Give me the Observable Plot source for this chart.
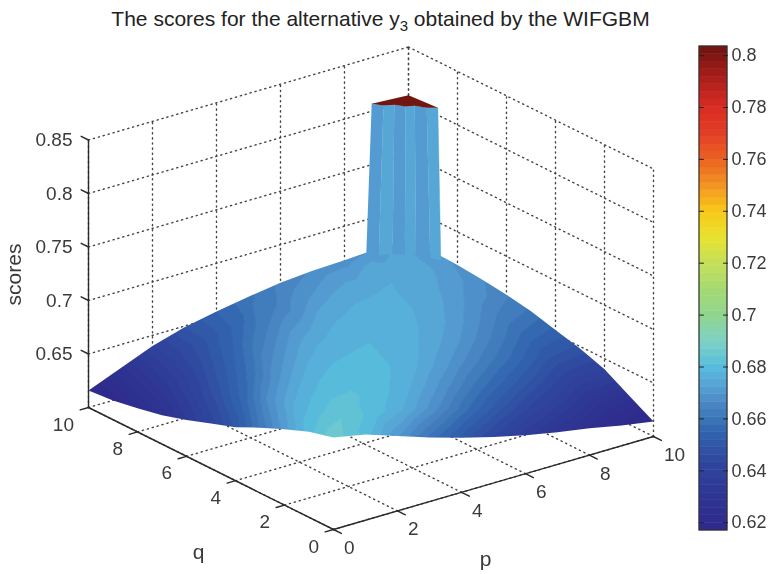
<!DOCTYPE html>
<html>
<head>
<meta charset="utf-8">
<script src="https://cdn.jsdelivr.net/npm/d3@7"></script>
<script src="https://cdn.jsdelivr.net/npm/@observablehq/plot@0.6"></script>
<style>
html,body{margin:0;padding:0;background:#fff;}
#title{height:40px;width:771px;box-sizing:border-box;padding-top:7px;text-align:center;padding-right:10px;
font:21px/24px "Liberation Sans",Arial,sans-serif;color:#222;white-space:nowrap;}
#title sub{font-size:15px;line-height:0;}
svg{display:block;filter:blur(.4px);}
</style>
</head>
<body>
<div id="title">The scores for the alternative y<sub>3</sub> obtained by the WIFGBM</div>
<div id="chart"></div>
<script>
// grid positions
const pValues = [0,1,2,3,4,5,6,7,8,9,10];
const qValues = [0,1,2,3,4,5,6,7,8,9,10];
// surface scores, one row per q, one column per p (foot of the column at the far corner)
const scoresQ0  = [.686,.680,.670,.660,.651,.643,.636,.630,.625,.619,.614];
const scoresQ1  = [.680,.684,.680,.675,.667,.6575,.6495,.6425,.6367,.6295,.627];
const scoresQ2  = [.671,.680,.682,.6795,.675,.668,.660,.6535,.6469,.6407,.640];
const scoresQ3  = [.661,.675,.6795,.680,.6785,.675,.669,.6625,.6565,.6496,.648];
const scoresQ4  = [.650,.667,.675,.6785,.679,.6775,.6745,.6695,.6635,.657,.654];
const scoresQ5  = [.642,.656,.668,.675,.6775,.678,.6765,.674,.669,.6631,.660];
const scoresQ6  = [.634,.648,.659,.669,.6745,.6765,.677,.6755,.6725,.668,.664];
const scoresQ7  = [.627,.641,.652,.6625,.6695,.674,.6755,.676,.6742,.6713,.667];
const scoresQ8  = [.622,.635,.646,.655,.663,.668,.6725,.6742,.675,.6733,.669];
const scoresQ9  = [.618,.631,.642,.650,.657,.663,.668,.6713,.6733,.674,.670];
const scoresQ10 = [.616,.628,.640,.649,.655,.660,.6645,.667,.668,.670,.671];
const scoreRows = [scoresQ0,scoresQ1,scoresQ2,scoresQ3,scoresQ4,scoresQ5,scoresQ6,scoresQ7,scoresQ8,scoresQ9,scoresQ10];

// the column in the far corner: one entry per edge of each facet
const columnTopP  = [8.85,9.05,9.25,9.45,9.62,9.82,10];
const columnTopQ  = [10,9.78,9.6,9.4,9.25,9.02,8.8];
const columnTopZ  = [.807,.806,.807,.806,.807,.806,.807];
const columnBaseP = [8.68,8.88,9.12,9.35,9.55,9.8,10];
const columnBaseQ = [10,9.75,9.5,9.3,9.1,8.85,8.68];
const columnBaseZ = [.667,.668,.670,.670,.670,.668,.666];
const columnFacetScore = [.6715,.6745,.6715,.6745,.6715,.6745];
const cornerP = 10, cornerQ = 10, cornerZ = .805, cornerScore = .803;

// axes
const xyTicks = [0,2,4,6,8,10];
const zTicks = [.65,.7,.75,.8,.85];
const zFloor = .6;
const barTicks = [.62,.64,.66,.68,.7,.72,.74,.76,.78,.8];
const barMin = .617, barMax = .8035;

// colour map
const stopValues = [.617,.63,.645,.655,.665,.672,.68,.69,.70,.71,.72,.73,.74,.75,.76,.77,.78,.79,.80,.8035];
const stopColors = ["#2f2a8c","#2e3593","#2f4aa0","#3165ae","#4885c2","#569fd4","#57bcdc","#7fd2c4","#90d58e","#a6da72","#c4df58","#e8e22e","#f8c818","#f39322","#ea6222","#e23d25","#d92b24","#b01f1c","#7e1612","#6b1410"];
const bandCount = 64;

// view of the box (pixels per unit)
const origin = [333, 529];
const perP = [32, -9.3];
const perQ = [-24.5, -12.2];
const perZ = -1070;
const sx = (p,q) => origin[0] + perP[0]*p + perQ[0]*q;
const sy = (p,q,z) => origin[1] + perP[1]*p + perQ[1]*q + perZ*(z - zFloor);
const pt = (p,q,z) => ({x:sx(p,q), y:sy(p,q,z)});

// colour bar geometry
const barLeft = 699, barRight = 727, barTop = 46, barBottom = 530;
const barY = d3.scaleLinear([barMin,barMax],[barBottom,barTop]);

// colour scale
const colorAt = d3.scaleLinear(stopValues, stopColors).interpolate(d3.interpolateRgb);
const bandEdges = d3.range(bandCount+1).map(i => barMin + (barMax-barMin)*i/bandCount);
const bands = d3.range(bandCount).map(i => ({v0:bandEdges[i], v1:bandEdges[i+1], v:(bandEdges[i]+bandEdges[i+1])/2}));
const bandRange = bands.map(b => d3.rgb(colorAt(b.v)).formatHex());
const bandDomain = bandEdges.slice(1,-1);

// surface points
const surface = [];
qValues.forEach((q,i) => pValues.forEach((p,j) => {
  const z = scoreRows[i][j];
  surface.push({...pt(p,q,z), z});
}));
// outline of the surface: walk round the grid
const last = pValues.length - 1;
const outline = [
  ...pValues.map((p,j) => pt(p,qValues[0],scoreRows[0][j])),
  ...qValues.map((q,i) => pt(pValues[last],q,scoreRows[i][last])),
  ...pValues.map((p,j) => pt(p,qValues[last],scoreRows[last][j])).reverse(),
  ...qValues.map((q,i) => pt(pValues[0],q,scoreRows[i][0])).reverse()
];
function clipToOutline(index, scales, values, dims, context, next) {
  const g = next(index, scales, values, dims, context);
  const d = "M" + outline.map(o => `${scales.x(o.x)},${scales.y(o.y)}`).join("L") + "Z";
  const clip = d3.create("svg:clipPath").attr("id","surface-outline");
  clip.append("path").attr("d", d);
  g.insertBefore(clip.node(), g.firstChild);
  g.setAttribute("clip-path","url(#surface-outline)");
  return g;
}

// grid lines (dotted)
const grid = [];
let gid = 0;
const seg = (a,b) => { grid.push({...a,id:gid},{...b,id:gid}); gid++; };
const zTop = zTicks[zTicks.length-1];
for (const t of xyTicks) {
  seg(pt(t,0,zFloor), pt(t,10,zFloor));
  seg(pt(0,t,zFloor), pt(10,t,zFloor));
  seg(pt(t,10,zFloor), pt(t,10,zTop));
  seg(pt(10,t,zFloor), pt(10,t,zTop));
}
for (const z of zTicks) {
  seg(pt(0,10,z), pt(10,10,z));
  seg(pt(10,10,z), pt(10,0,z));
}

// solid axes and ticks
const axes = [];
let aid = 0;
const aseg = (a,b) => { axes.push({...a,id:aid},{...b,id:aid}); aid++; };
aseg(pt(0,0,zFloor), pt(10,0,zFloor));
aseg(pt(0,0,zFloor), pt(0,10,zFloor));
aseg(pt(0,10,zFloor), pt(0,10,zTop));
for (const t of xyTicks) {
  aseg(pt(t,0,zFloor), pt(t,-.32,zFloor));
  aseg(pt(0,t,zFloor), pt(-.26,t,zFloor));
}
for (const z of zTicks) {
  aseg(pt(0,10,z), pt(0,10.3,z));
}

// tick labels, placed by offset from the axes
const pLabels = xyTicks.map(t => { const a = pt(t,0,zFloor); return {x:a.x+10.5, y:a.y+18.5, t:String(t)}; });
const qLabels = xyTicks.map(t => { const a = pt(0,t,zFloor); return {x:a.x-14.5, y:a.y+17, t:String(t)}; });
const zLabels = zTicks.map(z => { const a = pt(0,10,z); return {x:a.x-16, y:a.y, t:String(z)}; });

// column facets and top
const facets = [];
columnFacetScore.forEach((s,i) => {
  const ring = [
    pt(columnTopP[i],columnTopQ[i],columnTopZ[i]),
    pt(columnTopP[i+1],columnTopQ[i+1],columnTopZ[i+1]),
    pt(columnBaseP[i+1],columnBaseQ[i+1],columnBaseZ[i+1]),
    pt(columnBaseP[i],columnBaseQ[i],columnBaseZ[i])
  ];
  ring.forEach(r => facets.push({...r, id:i, s}));
});
const topRing = columnTopP.map((p,i) => pt(p,columnTopQ[i],columnTopZ[i]));
topRing.push(pt(cornerP,cornerQ,cornerZ));
topRing.forEach(r => r.s = cornerScore);

// colour bar ticks
const barTickSegs = [];
barTicks.forEach((v,i) => {
  const y = barY(v);
  barTickSegs.push({x:barLeft,y,id:2*i},{x:barLeft+4,y,id:2*i},{x:barRight-4,y,id:2*i+1},{x:barRight,y,id:2*i+1});
});

const ink = "#2a2a2a";
const textInk = "#3a3a3a";
const chart = Plot.plot({
  width: 771, height: 534,
  marginTop: 0, marginRight: 0, marginBottom: 0, marginLeft: 0,
  x: {domain:[0,771], range:[0,771], axis:null},
  y: {domain:[40,574], range:[0,534], axis:null},
  color: {type:"threshold", domain: bandDomain, range: bandRange},
  style: {fontFamily:'"Liberation Sans",Arial,sans-serif', background:"#fff", overflow:"visible"},
  marks: [
    Plot.line(grid, {x:"x", y:"y", z:"id", stroke:"#444", strokeWidth:1.4, strokeDasharray:"1.2,3.9", strokeLinecap:"round"}),
    Plot.raster(surface, {x:"x", y:"y", fill:"z", interpolate:"barycentric", x1:0, x2:771, y1:40, y2:574, width:771, height:534, render:clipToOutline}),
    Plot.line(axes, {x:"x", y:"y", z:"id", stroke:ink, strokeWidth:1.4}),
    Plot.line(facets, {x:"x", y:"y", z:"id", fill:"s", stroke:"s", strokeWidth:.4}),
    Plot.line(topRing, {x:"x", y:"y", fill:"s", stroke:"none"}),
    Plot.text(pLabels, {x:"x", y:"y", text:"t", textAnchor:"start", fontSize:19, fill:textInk}),
    Plot.text(qLabels, {x:"x", y:"y", text:"t", textAnchor:"end", fontSize:19, fill:textInk}),
    Plot.text(zLabels, {x:"x", y:"y", text:"t", fontSize:19, textAnchor:"end", fill:textInk}),
    Plot.text(["q"], {x:()=>198, y:()=>552, fontSize:21, fill:textInk}),
    Plot.text(["p"], {x:()=>485, y:()=>559, fontSize:21, fill:textInk}),
    Plot.text(["scores"], {x:()=>14, y:()=>274, rotate:-90, fontSize:21, fill:textInk}),
    Plot.rect(bands, {x1:()=>barLeft, x2:()=>barRight, y1:d=>barY(d.v0), y2:d=>barY(d.v1), fill:"v", stroke:"v", strokeWidth:.5}),
    Plot.rect([0], {x1:()=>barLeft, x2:()=>barRight, y1:()=>barTop, y2:()=>barBottom, stroke:"#333", strokeWidth:1.2, fill:"none"}),
    Plot.line(barTickSegs, {x:"x", y:"y", z:"id", stroke:"#222", strokeWidth:1}),
    Plot.text(barTicks, {x:()=>731, y:d=>barY(d), text:d=>String(d), textAnchor:"start", fontSize:18, fill:textInk})
  ]
});
document.getElementById("chart").append(chart);
</script>
</body>
</html>
